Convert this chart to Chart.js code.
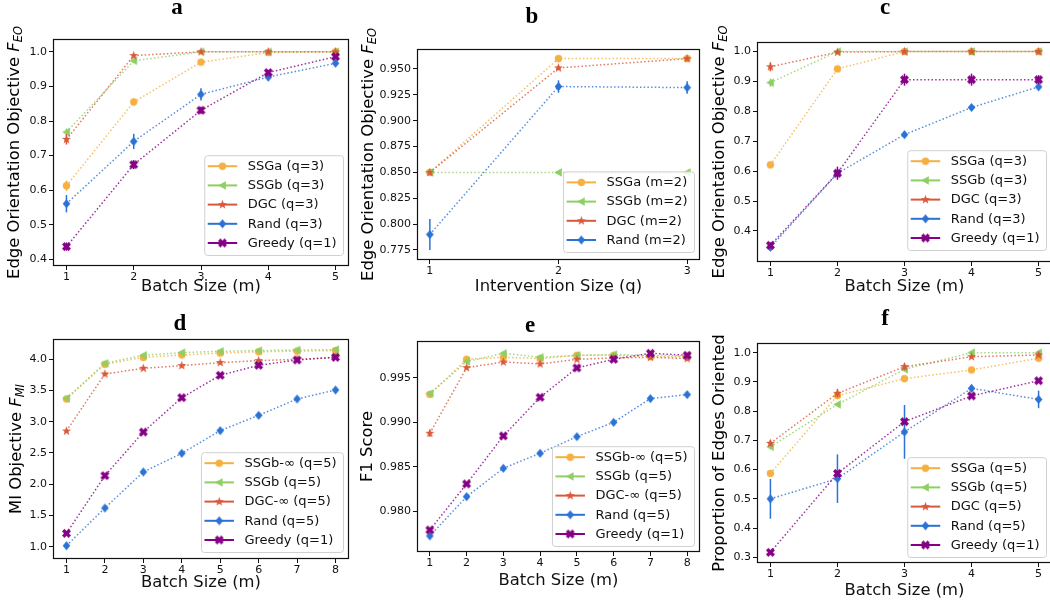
<!DOCTYPE html>
<html>
<head>
<meta charset="utf-8">
<script src="https://cdn.jsdelivr.net/npm/chart.js@4.4.1/dist/chart.umd.min.js"></script>
<style>
  body { margin: 0; background: #fff; width: 1050px; height: 604px; overflow: hidden; position: relative; }
  canvas { position: absolute; }
</style>
</head>
<body>
<canvas id="ca" width="350" height="300" style="left:0;top:0"></canvas>
<canvas id="cb" width="352" height="300" style="left:350px;top:0"></canvas>
<canvas id="cc" width="354" height="300" style="left:700px;top:0"></canvas>
<canvas id="cd" width="350" height="304" style="left:0;top:300px"></canvas>
<canvas id="ce" width="352" height="304" style="left:350px;top:300px"></canvas>
<canvas id="cf" width="354" height="304" style="left:700px;top:300px"></canvas>
<script>
// ---- panel a : F_EO vs batch size
const batchA = [1, 2, 3, 4, 5];
const labelsA = ['SSGa (q=3)', 'SSGb (q=3)', 'DGC (q=3)', 'Rand (q=3)', 'Greedy (q=1)'];
const aSSGa = [0.613, 0.855, 0.970, 0.998, 1.0];
const aSSGb = [0.768, 0.974, 1.0, 1.0, 1.0];
const aDGC = [0.747, 0.989, 1.0, 1.0, 1.0];
const aRand = [0.561, 0.741, 0.877, 0.927, 0.967];
const aGreedy = [0.437, 0.674, 0.831, 0.940, 0.986];
const aSSGaErr = [0.015, 0.010, 0.006, 0.003, 0];
const aSSGbErr = [0.010, 0.005, 0, 0, 0];
const aDGCErr = [0.015, 0.005, 0, 0, 0];
const aRandErr = [0.025, 0.022, 0.018, 0.010, 0.008];
const aGreedyErr = [0.012, 0.013, 0.010, 0.006, 0.005];
const yTicksA = [0.4, 0.5, 0.6, 0.7, 0.8, 0.9, 1.0];

// ---- panel b : F_EO vs intervention size
const intervB = [1, 2, 3];
const labelsB = ['SSGa (m=2)', 'SSGb (m=2)', 'DGC (m=2)', 'Rand (m=2)'];
const bSSGa = [0.850, 0.960, 0.960];
const bSSGb = [0.850, 0.850, 0.850];
const bDGC = [0.850, 0.951, 0.960];
const bRand = [0.790, 0.933, 0.932];
const bSSGaErr = [0, 0.001, 0.001];
const bSSGbErr = [0, 0, 0];
const bDGCErr = [0.001, 0.002, 0.001];
const bRandErr = [0.015, 0.006, 0.006];
const yTicksB = [0.775, 0.800, 0.825, 0.850, 0.875, 0.900, 0.925, 0.950];

// ---- panel c
const batchC = [1, 2, 3, 4, 5];
const labelsC = ['SSGa (q=3)', 'SSGb (q=3)', 'DGC (q=3)', 'Rand (q=3)', 'Greedy (q=1)'];
const cSSGa = [0.621, 0.942, 1.0, 1.0, 1.0];
const cSSGb = [0.896, 1.0, 1.0, 1.0, 1.0];
const cDGC = [0.949, 0.998, 1.0, 1.0, 1.0];
const cRand = [0.345, 0.593, 0.722, 0.813, 0.882];
const cGreedy = [0.352, 0.593, 0.906, 0.906, 0.906];
const cSSGaErr = [0.008, 0.005, 0, 0, 0];
const cSSGbErr = [0.013, 0.002, 0, 0, 0];
const cDGCErr = [0.015, 0.004, 0, 0, 0];
const cRandErr = [0.008, 0.010, 0.008, 0.008, 0.008];
const cGreedyErr = [0.010, 0.022, 0.020, 0.020, 0.015];
const yTicksC = [0.4, 0.5, 0.6, 0.7, 0.8, 0.9, 1.0];

// ---- panel d : MI objective
const batchD = [1, 2, 3, 4, 5, 6, 7, 8];
const labelsD = ['SSGb-\u221e (q=5)', 'SSGb (q=5)', 'DGC-\u221e (q=5)', 'Rand (q=5)', 'Greedy (q=1)'];
const dSSGbInf = [3.365, 3.920, 4.030, 4.070, 4.100, 4.120, 4.130, 4.140];
const dSSGb = [3.375, 3.936, 4.064, 4.107, 4.128, 4.139, 4.149, 4.155];
const dDGCInf = [2.852, 3.765, 3.856, 3.899, 3.947, 3.979, 4.000, 4.030];
const dRand = [1.016, 1.619, 2.196, 2.495, 2.858, 3.103, 3.365, 3.509];
const dGreedy = [1.214, 2.137, 2.836, 3.386, 3.744, 3.904, 3.989, 4.032];
const dSSGbInfErr = [0.02, 0.01, 0.01, 0.01, 0.01, 0.01, 0.01, 0.01];
const dSSGbErr = [0.02, 0.01, 0.01, 0.01, 0.01, 0.01, 0.01, 0.01];
const dDGCInfErr = [0.02, 0.02, 0.01, 0.01, 0.01, 0.01, 0.01, 0.01];
const dRandErr = [0.02, 0.02, 0.02, 0.02, 0.02, 0.02, 0.02, 0.02];
const dGreedyErr = [0.02, 0.02, 0.02, 0.02, 0.02, 0.02, 0.02, 0.02];
const yTicksD = [1.0, 1.5, 2.0, 2.5, 3.0, 3.5, 4.0];

// ---- panel e : F1 score
const batchE = [1, 2, 3, 4, 5, 6, 7, 8];
const labelsE = ['SSGb-\u221e (q=5)', 'SSGb (q=5)', 'DGC-\u221e (q=5)', 'Rand (q=5)', 'Greedy (q=1)'];
const eSSGbInf = [0.99316, 0.99710, 0.99733, 0.99718, 0.99755, 0.99755, 0.99740, 0.99740];
const eSSGb = [0.99324, 0.99684, 0.99778, 0.99733, 0.99755, 0.99763, 0.99755, 0.99748];
const eDGCInf = [0.98878, 0.99616, 0.99680, 0.99658, 0.99710, 0.99725, 0.99733, 0.99718];
const eRand = [0.97723, 0.98165, 0.98484, 0.98653, 0.98840, 0.99001, 0.99268, 0.99313];
const eGreedy = [0.97790, 0.98308, 0.98848, 0.99283, 0.99613, 0.99710, 0.99778, 0.99755];
const eSSGbInfErr = [0.0002, 0.0001, 0.0001, 0.0001, 0.0001, 0.0001, 0.0001, 0.0001];
const eSSGbErr = [0.0002, 0.0001, 0.0001, 0.0001, 0.0001, 0.0001, 0.0001, 0.0001];
const eDGCInfErr = [0.0004, 0.0002, 0.0002, 0.0002, 0.0001, 0.0001, 0.0002, 0.0002];
const eRandErr = [0.0003, 0.0003, 0.0003, 0.0003, 0.0003, 0.0003, 0.0002, 0.0002];
const eGreedyErr = [0.0002, 0.0002, 0.0002, 0.0002, 0.0001, 0.0001, 0.0001, 0.0001];
const yTicksE = [0.980, 0.985, 0.990, 0.995];

// ---- panel f : proportion of edges oriented
const batchF = [1, 2, 3, 4, 5];
const labelsF = ['SSGa (q=5)', 'SSGb (q=5)', 'DGC (q=5)', 'Rand (q=5)', 'Greedy (q=1)'];
const fSSGa = [0.587, 0.853, 0.911, 0.941, 0.981];
const fSSGb = [0.678, 0.823, 0.943, 1.0, 1.0];
const fDGC = [0.690, 0.861, 0.952, 0.986, 0.992];
const fRand = [0.500, 0.569, 0.729, 0.878, 0.840];
const fGreedy = [0.317, 0.587, 0.764, 0.852, 0.904];
const fSSGaErr = [0.005, 0.005, 0.004, 0.003, 0.003];
const fSSGbErr = [0.008, 0.005, 0.005, 0, 0];
const fDGCErr = [0.010, 0.015, 0.012, 0.005, 0.005];
const fRandErr = [0.068, 0.083, 0.092, 0.012, 0.030];
const fGreedyErr = [0.005, 0.005, 0.004, 0.004, 0.004];
const yTicksF = [0.3, 0.4, 0.5, 0.6, 0.7, 0.8, 0.9, 1.0];

// ---- styling
const FONT = '"DejaVu Sans", sans-serif';
const COLORS = [[245, 176, 65], [141, 207, 98], [218, 88, 58], [42, 114, 214], [133, 0, 133]];
const rgba = (c, a) => `rgba(${c[0]},${c[1]},${c[2]},${a})`;

function mk(draw, col) {
  const c = document.createElement('canvas');
  c.width = 11; c.height = 11;
  const g = c.getContext('2d');
  g.translate(5.5, 5.5);
  g.fillStyle = col; g.strokeStyle = col;
  draw(g);
  return c;
}
const MARKERS = [
  mk(g => { g.beginPath(); g.arc(0, 0, 3.7, 0, Math.PI * 2); g.fill(); }, rgba(COLORS[0], 1)),
  mk(g => { g.beginPath(); g.moveTo(-4.3, 0); g.lineTo(3.3, -4.2); g.lineTo(3.3, 4.2); g.closePath(); g.fill(); }, rgba(COLORS[1], 1)),
  mk(g => {
    g.beginPath();
    for (let k = 0; k < 10; k++) {
      const r = k % 2 ? 2.0 : 4.8, a = -Math.PI / 2 + k * Math.PI / 5;
      k ? g.lineTo(r * Math.cos(a), r * Math.sin(a)) : g.moveTo(r * Math.cos(a), r * Math.sin(a));
    }
    g.closePath(); g.fill();
  }, rgba(COLORS[2], 1)),
  mk(g => { g.beginPath(); g.moveTo(0, -4.6); g.lineTo(3.8, 0); g.lineTo(0, 4.6); g.lineTo(-3.8, 0); g.closePath(); g.fill(); }, rgba(COLORS[3], 1)),
  mk(g => {
    g.lineWidth = 3.4; g.lineCap = 'butt';
    g.beginPath(); g.moveTo(-3.3, -3.3); g.lineTo(3.3, 3.3); g.moveTo(-3.3, 3.3); g.lineTo(3.3, -3.3); g.stroke();
    g.fillRect(-1.6, -1.6, 3.2, 3.2);
  }, rgba(COLORS[4], 1))
];

const panelDecor = {
  id: 'panelDecor',
  beforeDatasetDraw(chart, args) {
    const ds = chart.data.datasets[args.index];
    if (!ds.err) return;
    const ys = chart.scales.y, ctx = chart.ctx;
    ctx.save();
    ctx.strokeStyle = rgba(COLORS[args.index], 1);
    ctx.lineWidth = 1.5;
    args.meta.data.forEach((pt, j) => {
      const e = ds.err[j];
      if (!e) return;
      const v = ds.data[j].y;
      ctx.beginPath();
      ctx.moveTo(pt.x, ys.getPixelForValue(v - e));
      ctx.lineTo(pt.x, ys.getPixelForValue(v + e));
      ctx.stroke();
    });
    ctx.restore();
  },
  afterDraw(chart, args, o) {
    const ctx = chart.ctx, a = chart.chartArea;
    ctx.save();
    // frame
    ctx.strokeStyle = '#111';
    ctx.lineWidth = 1.2;
    ctx.strokeRect(a.left + 0.5, a.top + 0.5, a.right - a.left - 1, a.bottom - a.top - 1);
    // panel letter
    ctx.fillStyle = '#000';
    ctx.font = 'bold 23px "Liberation Serif", serif';
    ctx.textAlign = 'center';
    ctx.textBaseline = 'alphabetic';
    ctx.fillText(o.letter, o.letterX, o.letterY);
    // y label with optional italic F and subscript
    const fs = 16.4;
    ctx.translate(o.ylabX, (a.top + a.bottom) / 2);
    ctx.rotate(-Math.PI / 2);
    ctx.textAlign = 'left';
    ctx.textBaseline = 'middle';
    ctx.font = `${fs}px ${FONT}`;
    const w1 = ctx.measureText(o.ylab[0]).width;
    ctx.font = `italic ${fs}px ${FONT}`;
    const w2 = o.ylab[1] ? ctx.measureText(o.ylab[1]).width : 0;
    ctx.font = `italic ${fs * 0.7}px ${FONT}`;
    const w3 = o.ylab[2] ? ctx.measureText(o.ylab[2]).width : 0;
    let x0 = -(w1 + w2 + w3) / 2;
    ctx.font = `${fs}px ${FONT}`;
    ctx.fillText(o.ylab[0], x0, 0);
    if (o.ylab[1]) {
      ctx.font = `italic ${fs}px ${FONT}`;
      ctx.fillText(o.ylab[1], x0 + w1, 0);
      ctx.font = `italic ${fs * 0.7}px ${FONT}`;
      ctx.fillText(o.ylab[2], x0 + w1 + w2, 4.5);
    }
    ctx.restore();
    // legend in lower right
    const dss = chart.data.datasets;
    ctx.save();
    ctx.font = `13px ${FONT}`;
    const tw = Math.max(...dss.map(d => ctx.measureText(d.label).width));
    const rowH = 19.2;
    const bw = 3.5 + 29.5 + 10.5 + tw + 6.5;
    const bh = (dss.length - 1) * rowH + 23;
    const bx = a.right - 6 - bw, by = a.bottom - o.legBottom - bh;
    ctx.fillStyle = 'rgba(255,255,255,0.85)';
    ctx.strokeStyle = '#d0d0d0';
    ctx.lineWidth = 1;
    ctx.beginPath();
    ctx.roundRect(bx + 0.5, by + 0.5, bw, bh, 3);
    ctx.fill(); ctx.stroke();
    ctx.textBaseline = 'middle';
    ctx.textAlign = 'left';
    dss.forEach((d, i) => {
      const cy = by + 11 + i * rowH;
      ctx.strokeStyle = rgba(COLORS[i], 1);
      ctx.lineWidth = 2;
      ctx.beginPath();
      ctx.moveTo(bx + 3.5, cy); ctx.lineTo(bx + 33, cy);
      ctx.stroke();
      const m = MARKERS[i];
      ctx.drawImage(m, bx + 18.25 - m.width / 2, cy - m.height / 2);
      ctx.fillStyle = '#111';
      ctx.fillText(d.label, bx + 43.5, cy + 0.5);
    });
    ctx.restore();
  }
};

function buildChart(id, p) {
  const cv = document.getElementById(id);
  const W = cv.width, H = cv.height;
  const datasets = p.series.map((s, i) => ({
    label: p.labels[i],
    data: p.x.map((xv, j) => ({ x: xv, y: s[j] })),
    err: p.errs[i],
    borderColor: rgba(COLORS[i], 0.8),
    backgroundColor: rgba(COLORS[i], 1),
    borderWidth: 1.5,
    borderDash: [1.5, 2.2],
    pointStyle: MARKERS[i],
    tension: 0,
    fill: false,
    order: 10 - i
  }));
  const tickFont = { family: FONT, size: 11 };
  const axisGrid = { drawOnChartArea: false, drawTicks: true, tickLength: 4, color: '#111', lineWidth: 1 };
  new Chart(cv, {
    type: 'line',
    data: { datasets },
    options: {
      responsive: false,
      animation: false,
      events: [],
      layout: { autoPadding: false, padding: { left: 0, top: p.area.t, right: W - p.area.r, bottom: 0 } },
      plugins: {
        legend: { display: false },
        tooltip: { enabled: false },
        panelDecor: { letter: p.letter, letterX: p.letterX, letterY: p.letterY, ylab: p.ylab, ylabX: p.ylabX, legBottom: p.legBottom }
      },
      scales: {
        x: {
          type: 'linear', min: p.xMin, max: p.xMax,
          afterFit: s => { s.height = H - p.area.b; },
          afterBuildTicks: s => { s.ticks = p.x.map(v => ({ value: v })); },
          grid: axisGrid, border: { display: false },
          ticks: { font: tickFont, color: '#111', padding: 1, maxRotation: 0, autoSkip: false, callback: v => String(v) },
          title: { display: true, text: p.xTitle, color: '#111', font: { family: FONT, size: 16.4 }, padding: { top: 0, bottom: p.xPad } }
        },
        y: {
          type: 'linear', min: p.yMin, max: p.yMax,
          afterFit: s => { s.width = p.area.l; },
          afterBuildTicks: s => { s.ticks = p.yTicks.map(v => ({ value: v })); },
          grid: axisGrid, border: { display: false },
          ticks: { font: tickFont, color: '#111', padding: 2, autoSkip: false, callback: v => v.toFixed(p.yDec) }
        }
      }
    },
    plugins: [panelDecor]
  });
}

const EO = ['Edge Orientation Objective ', 'F', 'EO'];

buildChart('ca', {
  x: batchA, labels: labelsA,
  series: [aSSGa, aSSGb, aDGC, aRand, aGreedy],
  errs: [aSSGaErr, aSSGbErr, aDGCErr, aRandErr, aGreedyErr],
  xMin: 0.8, xMax: 5.2, yMin: 0.381, yMax: 1.037, yTicks: yTicksA, yDec: 1,
  area: { l: 53, r: 349, t: 39, b: 266 }, xTitle: 'Batch Size (m)', xPad: 3.4,
  letter: 'a', letterX: 177, letterY: 14, ylab: EO, ylabX: 15, legBottom: 11
});
buildChart('cb', {
  x: intervB, labels: labelsB,
  series: [bSSGa, bSSGb, bDGC, bRand],
  errs: [bSSGaErr, bSSGbErr, bDGCErr, bRandErr],
  xMin: 0.9, xMax: 3.1, yMin: 0.7653, yMax: 0.9693, yTicks: yTicksB, yDec: 3,
  area: { l: 67, r: 350, t: 49, b: 260 }, xTitle: 'Intervention Size (q)', xPad: 3.4,
  letter: 'b', letterX: 182, letterY: 23, ylab: EO, ylabX: 19, legBottom: 8
});
buildChart('cc', {
  x: batchC, labels: labelsC,
  series: [cSSGa, cSSGb, cDGC, cRand, cGreedy],
  errs: [cSSGaErr, cSSGbErr, cDGCErr, cRandErr, cGreedyErr],
  xMin: 0.8, xMax: 5.2, yMin: 0.296, yMax: 1.032, yTicks: yTicksC, yDec: 1,
  area: { l: 57, r: 352, t: 42, b: 262 }, xTitle: 'Batch Size (m)', xPad: 3.4,
  letter: 'c', letterX: 185, letterY: 14, ylab: EO, ylabX: 20, legBottom: 12
});
buildChart('cd', {
  x: batchD, labels: labelsD,
  series: [dSSGbInf, dSSGb, dDGCInf, dRand, dGreedy],
  errs: [dSSGbInfErr, dSSGbErr, dDGCInfErr, dRandErr, dGreedyErr],
  xMin: 0.65, xMax: 8.35, yMin: 0.803, yMax: 4.325, yTicks: yTicksD, yDec: 1,
  area: { l: 53, r: 349, t: 39, b: 259 }, xTitle: 'Batch Size (m)', xPad: 11.9,
  letter: 'd', letterX: 180, letterY: 30, ylab: ['MI Objective ', 'F', 'MI'], ylabX: 17, legBottom: 7
});
buildChart('ce', {
  x: batchE, labels: labelsE,
  series: [eSSGbInf, eSSGb, eDGCInf, eRand, eGreedy],
  errs: [eSSGbInfErr, eSSGbErr, eDGCInfErr, eRandErr, eGreedyErr],
  xMin: 0.65, xMax: 8.35, yMin: 0.97542, yMax: 0.99916, yTicks: yTicksE, yDec: 3,
  area: { l: 67, r: 350, t: 41, b: 252 }, xTitle: 'Batch Size (m)', xPad: 13.9,
  letter: 'e', letterX: 180, letterY: 32, ylab: ['F1 Score'], ylabX: 18, legBottom: 6
});
buildChart('cf', {
  x: batchF, labels: labelsF,
  series: [fSSGa, fSSGb, fDGC, fRand, fGreedy],
  errs: [fSSGaErr, fSSGbErr, fDGCErr, fRandErr, fGreedyErr],
  xMin: 0.8, xMax: 5.2, yMin: 0.2805, yMax: 1.033, yTicks: yTicksF, yDec: 1,
  area: { l: 57, r: 352, t: 43, b: 263 }, xTitle: 'Batch Size (m)', xPad: 3.9,
  letter: 'f', letterX: 185, letterY: 25, ylab: ['Proportion of Edges Oriented'], ylabX: 20, legBottom: 6
});
</script>
</body>
</html>
